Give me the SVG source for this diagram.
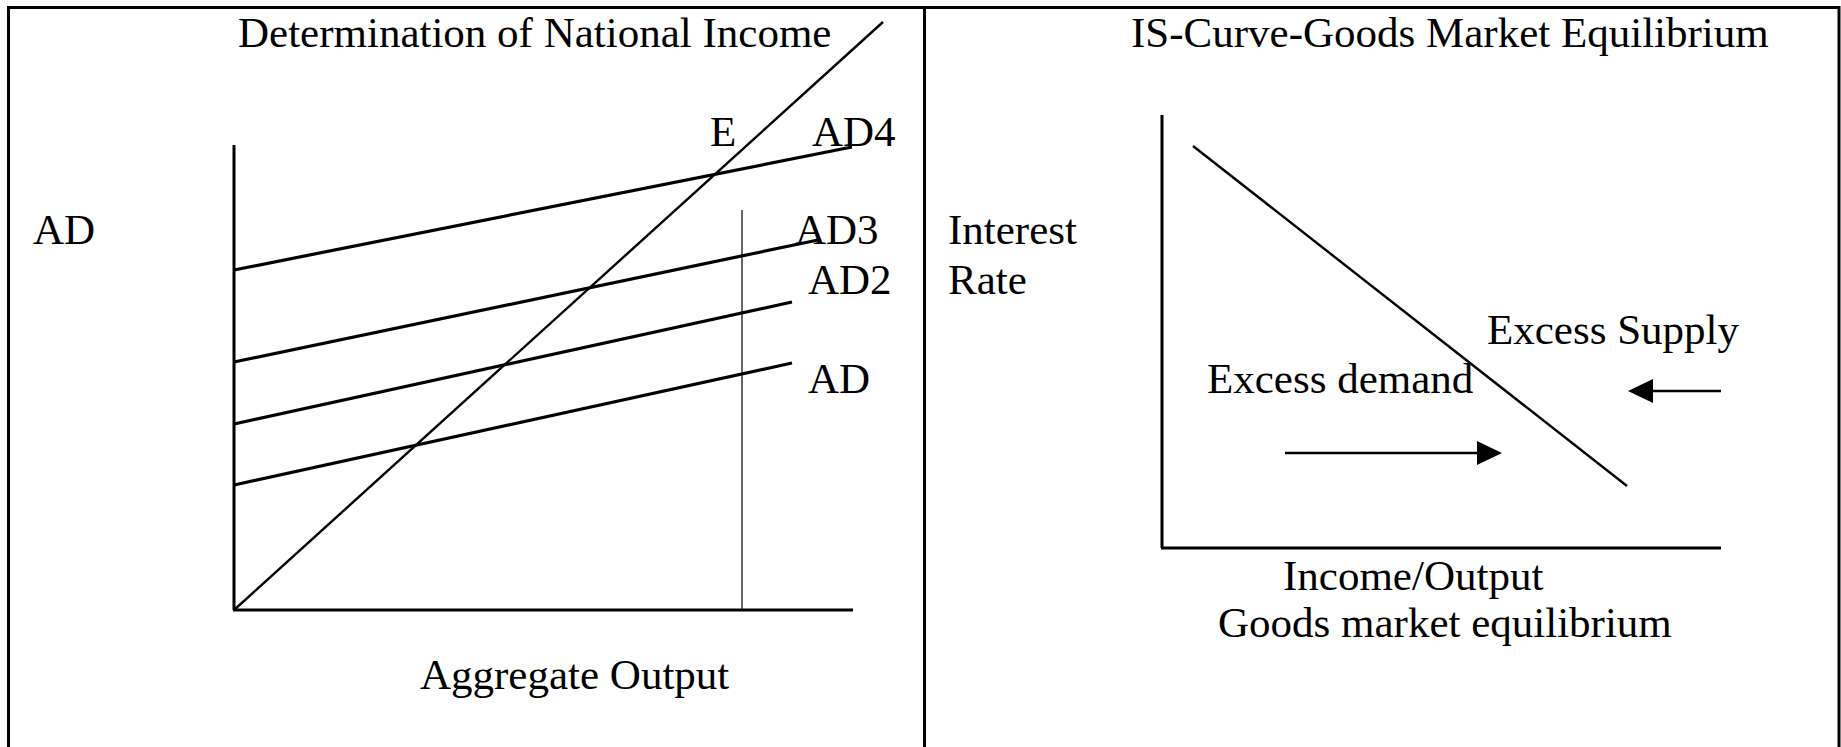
<svg xmlns="http://www.w3.org/2000/svg" width="1841" height="747" viewBox="0 0 1841 747">
<style>
text{font-family:"Liberation Serif","Times New Roman",serif;font-size:43px;fill:#000}
.frame{stroke:#000;stroke-width:3;fill:none}
.axis{stroke:#000;stroke-width:3;fill:none}
.ad{stroke:#000;stroke-width:3.2;fill:none}
.thin{stroke:#000;stroke-width:2.4;fill:none}
.hair{stroke:#000;stroke-width:1.2;fill:none}
.arr{stroke:#000;stroke-width:2.6;fill:none;marker-end:url(#head)}
</style>
<defs>
<marker id="head" viewBox="0 -12 25 24" markerWidth="25" markerHeight="24" refX="0" refY="0" markerUnits="userSpaceOnUse" orient="auto">
<path d="M0,-12 L25,0 L0,12 Z" fill="#000"/>
</marker>
</defs>
<rect width="1841" height="747" fill="#fff"/>
<g id="frame">
<path class="frame" d="M8.5,747 V7.5 H1839 V747"/>
<line class="frame" x1="924.5" y1="7.5" x2="924.5" y2="747"/>
</g>
<g id="left-panel">
<text x="238" y="47">Determination of National Income</text>
<text x="33" y="244">AD</text>
<text x="420" y="689">Aggregate Output</text>
<line class="axis" x1="234" y1="145" x2="234" y2="610"/>
<line class="axis" x1="233" y1="610" x2="853" y2="610"/>
<line class="thin" x1="234" y1="610" x2="883" y2="22"/>
<line class="hair" x1="742" y1="210" x2="742" y2="610"/>
<g id="ad4"><line class="ad" x1="234" y1="270" x2="852" y2="147"/><text x="812" y="146">AD4</text></g>
<g id="ad3"><line class="ad" x1="234" y1="362" x2="818" y2="240"/><text x="795" y="244">AD3</text></g>
<g id="ad2"><line class="ad" x1="234" y1="424" x2="792" y2="302"/><text x="808" y="294">AD2</text></g>
<g id="ad1"><line class="ad" x1="234" y1="485" x2="792" y2="363"/><text x="808" y="393">AD</text></g>
<g id="e-label"><text x="710" y="146">E</text></g>
</g>
<g id="right-panel">
<text x="1131" y="47">IS-Curve-Goods Market Equilibrium</text>
<text x="948" y="244">Interest</text>
<text x="948" y="294">Rate</text>
<line class="axis" x1="1162" y1="115" x2="1162" y2="548"/>
<line class="axis" x1="1161" y1="548" x2="1721" y2="548"/>
<line class="thin" x1="1193" y1="146" x2="1627" y2="486"/>
<text x="1487" y="344">Excess Supply</text>
<text x="1207" y="393">Excess demand</text>
<text x="1283" y="590">Income/Output</text>
<text x="1218" y="637">Goods market equilibrium</text>
</g>
<g id="connectors">
<line class="arr" x1="1285" y1="453" x2="1477" y2="453"/>
<line class="arr" x1="1721" y1="391" x2="1653" y2="391"/>
</g>
</svg>
